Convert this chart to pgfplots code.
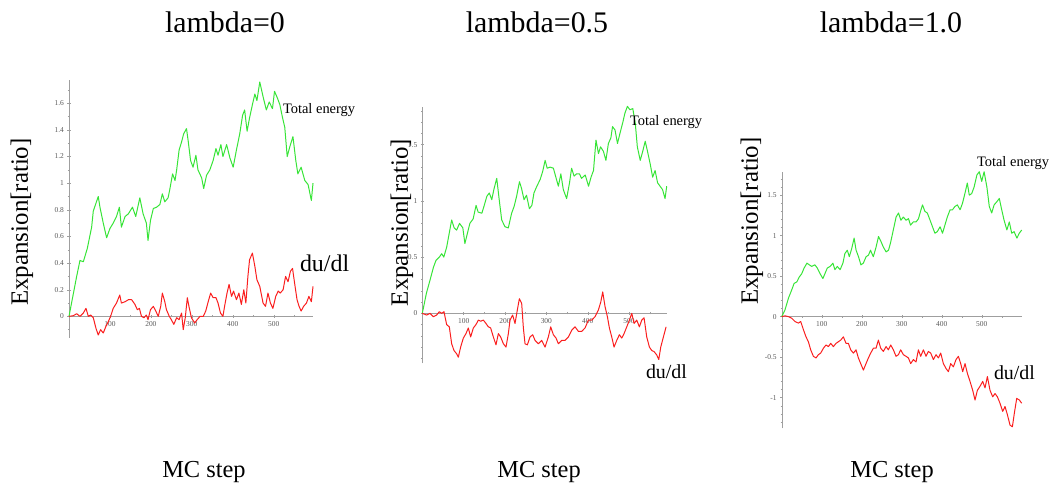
\documentclass[border=0pt]{standalone}
\usepackage{fontspec}
\setmainfont{Liberation Serif}
\usepackage{pgfplots}
\pgfplotsset{compat=1.18}
\definecolor{tegreen}{RGB}{55,228,55}
\definecolor{dured}{RGB}{250,30,30}
\pgfplotsset{mcstyle/.style={
  scale only axis,
  axis lines=middle,
  axis line style={-, gray!75},
  enlargelimits=false,
  clip=false,
  xmin=0,
  xtick={100,200,300,400,500},
  minor xtick={50,150,250,350,450,550},
  tick style={gray!75, line width=0.4pt},
  major tick length=3bp,
  minor tick length=2bp,
  hide obscured y ticks=false,
  ticklabel style={font=\fontsize{7.5}{8.5}\selectfont, text=gray!70!black},
  /pgf/number format/assume math mode=true,
  every axis plot/.append style={line width=1pt, line join=round},
}}
\begin{document}
\begin{tikzpicture}
\path[use as bounding box] (0,0) rectangle (1058bp,495bp);
% ---------- panel 1 ----------
\begin{axis}[mcstyle, at={(69bp,157bp)}, anchor=south west,
  width=244bp, height=258bp, xmax=596, ymin=-0.1625, ymax=1.775,
  ytick={0,0.2,0.4,0.6,0.8,1,1.2,1.4,1.6},
  minor ytick={-0.1,0.1,0.3,0.5,0.7,0.9,1.1,1.3,1.5,1.7}]
\addplot[tegreen] coordinates {(0,0) (18.7,0.3) (26.8,0.42) (35,0.41) (44.7,0.51) (55.3,0.67) (59.3,0.79) (65.9,0.85) (71.5,0.9) (75.6,0.82) (83.7,0.70) (91.9,0.59) (100,0.66) (108,0.70) (116,0.75) (123,0.82) (128,0.67) (137,0.75) (145,0.77) (155,0.82) (163,0.75) (173,0.89) (181,0.77) (189,0.70) (193,0.57) (199,0.72) (206,0.81) (214,0.82) (222,0.84) (228,0.92) (234,0.86) (242,0.89) (246,0.95) (253,1.07) (259,1.02) (263,1.10) (269,1.25) (275,1.31) (280,1.37) (287,1.41) (291,1.32) (297,1.17) (303,1.12) (310,1.21) (315,1.10) (324,1.04) (329,0.96) (336,1.06) (344,1.10) (352,1.17) (359,1.26) (364,1.21) (371,1.29) (376,1.20) (385,1.29) (393,1.19) (401,1.12) (409,1.25) (417,1.37) (424,1.51) (429,1.55) (435,1.39) (441,1.49) (448,1.59) (454,1.67) (459,1.62) (466,1.76) (474,1.65) (482,1.55) (489,1.61) (497,1.56) (502,1.69) (509,1.64) (515,1.59) (521,1.50) (527,1.42) (533,1.20) (539,1.27) (547,1.35) (554,1.17) (559,1.07) (567,1.12) (576,1.02) (584,0.99) (592,0.87) (596,1.00)};
\addplot[dured] coordinates {(0,0) (10.6,0.005) (18.7,0.02) (26.8,0) (35,0.025) (41.5,0.06) (47.2,0) (52.8,0.01) (59.3,-0.01) (65.9,-0.09) (71.5,-0.14) (77.2,-0.1) (83.7,-0.125) (90.2,-0.075) (95.9,-0.04) (101.6,0) (108,0.06) (116,0.1) (124,0.16) (128,0.1) (137,0.11) (145,0.125) (153,0.125) (161,0.09) (167,0.05) (172,0.06) (177,0) (183,-0.01) (189,0.01) (193,-0.025) (199,0.05) (206,0.075) (212,0.04) (218,0) (224,0.075) (228,0.175) (234,0.11) (238,0.05) (245,0) (250,-0.025) (256,-0.06) (263,-0.01) (269,-0.025) (275,0.025) (279,-0.1) (284,-0.01) (289,0.14) (293,0.075) (299,-0.01) (307,-0.05) (313,-0.025) (320,0) (328,0) (334,0.04) (340,0.11) (346,0.175) (352,0.14) (359,0.14) (364,0.1) (370,0.025) (376,0) (380,0.075) (386,0.175) (391,0.24) (397,0.15) (402,0.19) (409,0.125) (415,0.175) (421,0.09) (427,0.2) (432,0.1) (437,0.3) (441,0.425) (448,0.475) (454,0.375) (459,0.275) (466,0.225) (474,0.1) (480,0.075) (486,0.175) (492,0.1) (498,0.06) (505,0.15) (511,0.19) (516,0.175) (523,0.2) (529,0.3) (535,0.26) (541,0.34) (546,0.36) (551,0.25) (557,0.125) (562,0.075) (567,0.04) (573,0.075) (580,0.1) (586,0.15) (592,0.11) (596,0.225)};
\end{axis}
% ---------- panel 2 ----------
\begin{axis}[mcstyle, at={(422.3bp,131.7bp)}, anchor=south west,
  width=244.4bp, height=256.6bp, xmax=591, ymin=-0.444, ymax=1.837,
  ytick={0,0.5,1,1.5},
  minor ytick={-0.4,-0.3,-0.2,-0.1,0.1,0.2,0.3,0.4,0.6,0.7,0.8,0.9,1.1,1.2,1.3,1.4,1.6,1.7,1.8}]
\addplot[tegreen] coordinates {(0,0) (10,0.18) (19,0.30) (27,0.41) (33,0.47) (41,0.50) (47,0.53) (52,0.50) (59,0.59) (65,0.71) (71,0.83) (77,0.76) (83,0.74) (90,0.80) (98,0.76) (103,0.62) (109,0.71) (115,0.80) (123,0.84) (130,0.96) (135,0.90) (144,0.89) (149,0.95) (156,1.04) (162,1.07) (168,1.01) (173,1.10) (180,1.20) (186,1.01) (192,0.83) (200,0.77) (208,0.76) (216,0.89) (222,0.95) (228,1.04) (235,1.17) (240,1.11) (246,1.01) (252,1.05) (259,0.93) (265,0.96) (270,1.07) (277,1.13) (285,1.19) (291,1.26) (297,1.36) (302,1.29) (309,1.30) (317,1.29) (323,1.21) (329,1.13) (335,1.24) (341,1.10) (349,1.02) (356,1.16) (361,1.29) (367,1.22) (373,1.24) (380,1.24) (385,1.20) (394,1.23) (402,1.13) (408,1.21) (414,1.27) (420,1.54) (426,1.42) (431,1.48) (438,1.44) (444,1.36) (450,1.51) (456,1.56) (460,1.66) (466,1.63) (472,1.51) (478,1.60) (485,1.70) (490,1.78) (496,1.84) (502,1.81) (509,1.82) (515,1.69) (520,1.48) (527,1.36) (533,1.44) (539,1.53) (544,1.45) (551,1.33) (557,1.21) (563,1.27) (569,1.16) (575,1.13) (581,1.10) (587,1.02) (591,1.13)};
\addplot[dured] coordinates {(0,0) (10.5,-0.015) (18.5,0) (26.6,-0.03) (34.7,-0.015) (41.1,0.015) (46.8,0) (52.4,0.015) (58.9,-0.10) (65.3,-0.12) (71,-0.27) (76.6,-0.33) (83.1,-0.36) (87.1,-0.39) (92.7,-0.30) (99.2,-0.22) (105.6,-0.18) (111.3,-0.13) (116.9,-0.21) (123.4,-0.13) (129.8,-0.10) (135.5,-0.06) (141.1,-0.07) (147.6,-0.06) (154,-0.09) (159.7,-0.12) (165.3,-0.13) (171.8,-0.21) (178.2,-0.28) (183.9,-0.18) (189.5,-0.21) (196,-0.27) (202.4,-0.30) (208.1,-0.18) (212.1,-0.06) (218.5,-0.015) (224.2,-0.09) (229.8,0.03) (234.7,0.13) (240.3,0.09) (244.4,-0.13) (248.4,-0.27) (254,-0.28) (260.5,-0.21) (266.9,-0.19) (272.6,-0.24) (280.6,-0.27) (288.7,-0.24) (296.8,-0.30) (304.8,-0.21) (310.5,-0.12) (316.9,-0.19) (323.4,-0.22) (329,-0.27) (337.1,-0.24) (345.2,-0.24) (353.2,-0.21) (361.3,-0.15) (369.4,-0.12) (377.4,-0.16) (385.5,-0.16) (393.5,-0.13) (401.6,-0.06) (409.7,-0.06) (417.7,-0.03) (425.8,0.03) (431.5,0.10) (436.3,0.19) (441.9,0.06) (447.6,-0.03) (452.4,-0.13) (458.1,-0.21) (463.7,-0.30) (470.2,-0.24) (476.6,-0.19) (482.3,-0.22) (487.9,-0.18) (494.4,-0.12) (500.8,-0.06) (506.5,0) (512.1,-0.09) (518.5,-0.06) (525,-0.12) (530.6,-0.06) (536.3,-0.04) (542.7,-0.21) (549.2,-0.30) (554.8,-0.33) (560.5,-0.34) (566.9,-0.37) (571.8,-0.41) (576.6,-0.30) (583,-0.21) (589.5,-0.12)};
\end{axis}
% ---------- panel 3 ----------
\begin{axis}[mcstyle, at={(781.7bp,66.7bp)}, anchor=south west,
  width=240bp, height=256.6bp, xmax=600, ymin=-1.379, ymax=1.79,
  ytick={-1,-0.5,0,0.5,1,1.5},
  minor ytick={-1.3,-1.2,-1.1,-0.9,-0.8,-0.7,-0.6,-0.4,-0.3,-0.2,-0.1,0.1,0.2,0.3,0.4,0.6,0.7,0.8,0.9,1.1,1.2,1.3,1.4,1.6,1.7}]
\addplot[tegreen] coordinates {(0,0) (8,0.08) (17,0.23) (25,0.33) (31,0.41) (38,0.43) (44,0.49) (50,0.53) (56,0.60) (63,0.66) (69,0.64) (75,0.62) (83,0.64) (89,0.60) (96,0.53) (103,0.47) (108,0.53) (114,0.60) (121,0.62) (128,0.66) (133,0.58) (139,0.62) (146,0.58) (153,0.66) (158,0.78) (164,0.82) (169,0.74) (175,0.84) (181,0.97) (186,0.82) (192,0.74) (198,0.64) (204,0.66) (211,0.74) (217,0.76) (222,0.82) (229,0.74) (236,0.86) (242,0.99) (248,0.93) (254,0.86) (261,0.80) (267,0.82) (272,0.91) (279,1.07) (286,1.23) (292,1.28) (298,1.19) (304,1.23) (311,1.19) (317,1.21) (322,1.13) (329,1.17) (336,1.17) (342,1.21) (347,1.30) (352,1.38) (358,1.30) (364,1.28) (371,1.19) (377,1.11) (383,1.03) (389,1.05) (396,1.11) (402,1.03) (408,1.13) (414,1.23) (421,1.32) (427,1.32) (433,1.36) (439,1.38) (446,1.32) (452,1.40) (458,1.52) (464,1.65) (469,1.50) (475,1.52) (481,1.60) (488,1.75) (494,1.79) (500,1.67) (506,1.79) (513,1.60) (519,1.36) (525,1.28) (531,1.38) (538,1.42) (544,1.46) (550,1.32) (556,1.19) (563,1.07) (569,1.17) (575,1.03) (581,1.05) (588,0.97) (594,1.03) (600,1.07)};
\addplot[dured] coordinates {(0,0) (8.3,0.01) (16.7,0) (25,-0.02) (33.3,-0.06) (41.7,-0.08) (47.5,-0.06) (54.2,-0.16) (60.8,-0.25) (66.7,-0.31) (72.5,-0.41) (79.2,-0.49) (85.8,-0.51) (91.7,-0.47) (97.5,-0.45) (104.2,-0.39) (110.8,-0.35) (116.7,-0.37) (122.5,-0.33) (129.2,-0.37) (135.8,-0.33) (141.7,-0.31) (147.5,-0.29) (154.2,-0.25) (160.8,-0.33) (166.7,-0.33) (172.5,-0.41) (179.2,-0.45) (185.8,-0.41) (191.7,-0.51) (197.5,-0.58) (204.2,-0.66) (210.8,-0.58) (216.7,-0.51) (222.5,-0.45) (229.2,-0.39) (235.8,-0.39) (241.7,-0.29) (247.5,-0.39) (254.2,-0.43) (260.8,-0.37) (266.7,-0.41) (272.5,-0.35) (279.2,-0.41) (285.8,-0.49) (291.7,-0.47) (297.5,-0.41) (304.2,-0.47) (310.8,-0.49) (316.7,-0.51) (322.5,-0.58) (329.2,-0.53) (335.8,-0.56) (341.7,-0.41) (347.5,-0.49) (354.2,-0.41) (360.8,-0.49) (366.7,-0.43) (372.5,-0.45) (379.2,-0.53) (385.8,-0.47) (391.7,-0.51) (397.5,-0.45) (404.2,-0.58) (410.8,-0.64) (416.7,-0.68) (422.5,-0.58) (429.2,-0.62) (435.8,-0.53) (441.7,-0.49) (447.5,-0.58) (452.5,-0.68) (458.3,-0.58) (464.2,-0.70) (470.8,-0.80) (477.5,-0.91) (483.3,-1.03) (489.2,-0.91) (495.8,-0.86) (502.5,-0.80) (508.3,-0.88) (514.2,-0.74) (520.8,-0.91) (527.5,-0.99) (533.3,-0.95) (539.2,-0.99) (545.8,-1.07) (552.5,-1.17) (558.3,-1.11) (564.2,-1.21) (570.8,-1.34) (576.7,-1.36) (581.7,-1.19) (587.5,-1.01) (594.2,-1.03) (600,-1.07)};
\end{axis}
% ---------- titles and labels ----------
\begin{scope}[every node/.style={inner sep=0pt, outer sep=0pt}]
\node[font=\fontsize{30}{32}\selectfont, anchor=base] at (225bp,462bp) {lambda=0};
\node[font=\fontsize{30}{32}\selectfont, anchor=base] at (537bp,462bp) {lambda=0.5};
\node[font=\fontsize{30}{32}\selectfont, anchor=base] at (891bp,462bp) {lambda=1.0};
\node[font=\fontsize{24.5}{26}\selectfont, anchor=base] at (204bp,18bp) {MC step};
\node[font=\fontsize{24.5}{26}\selectfont, anchor=base] at (539bp,18bp) {MC step};
\node[font=\fontsize{24.5}{26}\selectfont, anchor=base] at (892bp,18bp) {MC step};
\node[font=\fontsize{25}{27}\selectfont, rotate=90] at (22bp,273bp) {Expansion[ratio]};
\node[font=\fontsize{25}{27}\selectfont, rotate=90] at (402bp,272.5bp) {Expansion[ratio]};
\node[font=\fontsize{25}{27}\selectfont, rotate=90] at (752bp,274bp) {Expansion[ratio]};
\node[font=\fontsize{14.5}{16}\selectfont, anchor=west] at (283bp,385bp) {Total energy};
\node[font=\fontsize{14.5}{16}\selectfont, anchor=west] at (630bp,373bp) {Total energy};
\node[font=\fontsize{14.5}{16}\selectfont, anchor=west] at (977bp,332bp) {Total energy};
\node[font=\fontsize{24}{26}\selectfont, anchor=west] at (300bp,232bp) {du/dl};
\node[font=\fontsize{20}{22}\selectfont, anchor=west] at (646bp,123bp) {du/dl};
\node[font=\fontsize{20}{22}\selectfont, anchor=west] at (994bp,122bp) {du/dl};
\end{scope}
\end{tikzpicture}
\end{document}
